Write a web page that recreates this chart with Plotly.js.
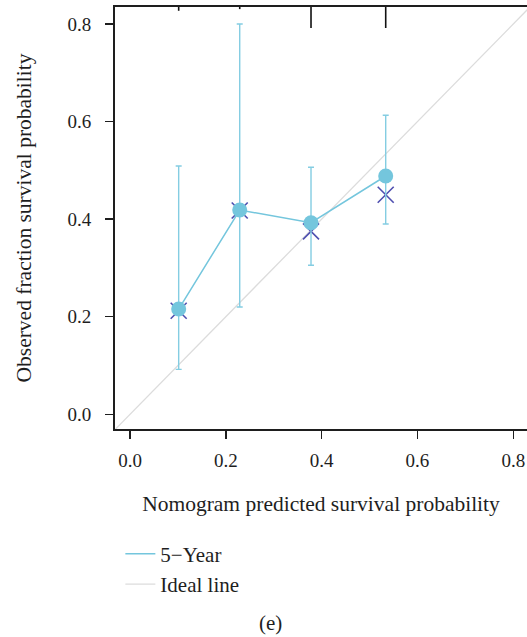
<!DOCTYPE html>
<html>
<head>
<meta charset="utf-8">
<script src="https://cdn.plot.ly/plotly-3.0.1.min.js"></script>
<style>
  html, body { margin: 0; padding: 0; background: #ffffff; }
  #chart { width: 527px; height: 637px; }
</style>
</head>
<body>
<div id="chart"></div>
<script>
// Calibration of the nomogram: 5-year survival
const predicted   = [0.1016, 0.2290, 0.3778, 0.5337];   // mean nomogram prediction per group
const observed    = [0.2158, 0.4187, 0.3927, 0.4884];   // Kaplan-Meier observed fraction
const corrected   = [0.2123, 0.4177, 0.3750, 0.4500];   // bias-corrected estimate (x marks)
const upperCI     = [0.5089, 0.8000, 0.5063, 0.6128];
const lowerCI     = [0.0922, 0.2199, 0.3054, 0.3900];
const riskDensity = [0.18, 0.10, 1.00, 1.00];           // relative frequency of predictions (top rug)
const idealSpan   = [-0.1, 1.0];
const xTicks      = [0.0, 0.2, 0.4, 0.6, 0.8];
const yTicks      = [0.0, 0.2, 0.4, 0.6, 0.8];
const xTickText   = ['0.0', '0.2', '0.4', '0.6', '0.8'];
const yTickText   = ['0.0', '0.2', '0.4', '0.6', '0.8'];

const BLUE = '#74c6dd';
const BAR  = '#84cde2';
const CROSS = '#4f4fb0';
const GREY = '#dcdcdc';
const INK = '#1e1e1e';
const FONT = 'Liberation Serif, Times New Roman, serif';

const errPlus  = upperCI.map((u, i) => u - observed[i]);
const errMinus = observed.map((o, i) => o - lowerCI[i]);

// rug segments hanging from the top edge
const rugX = [], rugY = [];
predicted.forEach((x, i) => { rugX.push(x, x, null); rugY.push(0, riskDensity[i], null); });

const traces = [
  {
    x: idealSpan, y: idealSpan, type: 'scatter', mode: 'lines',
    name: 'Ideal line', line: { color: GREY, width: 1.3 },
    legendgroup: 'b', legendrank: 2, hoverinfo: 'skip'
  },
  {
    x: predicted, y: corrected, type: 'scatter', mode: 'markers',
    marker: { symbol: 'x-thin-open', size: 16, color: CROSS, line: { color: CROSS, width: 1.6 } },
    showlegend: false, cliponaxis: false
  },
  {
    x: predicted, y: observed, type: 'scatter', mode: 'lines',
    name: '5\u2212Year', line: { color: BLUE, width: 1.5 },
    legendgroup: 'a', legendrank: 1
  },
  {
    x: predicted, y: observed, type: 'scatter', mode: 'markers',
    marker: { symbol: 'circle', size: 15, color: BLUE, line: { width: 0 } },
    error_y: { type: 'data', symmetric: false, array: errPlus, arrayminus: errMinus,
               color: BAR, thickness: 1.4, width: 3 },
    showlegend: false, cliponaxis: false
  },
  {
    x: rugX, y: rugY, type: 'scatter', mode: 'lines', yaxis: 'y2',
    line: { color: '#111111', width: 1.6 }, showlegend: false, hoverinfo: 'skip'
  }
];

const axisCommon = {
  showgrid: false, zeroline: false, showline: true, linecolor: INK, linewidth: 2,
  ticks: 'outside', ticklen: 8, tickwidth: 1.5, tickcolor: INK,
  tickfont: { family: FONT, size: 19, color: INK }, tickmode: 'array'
};

const layout = {
  width: 527, height: 637,
  margin: { l: 115, r: 0, t: 7, b: 208 },
  paper_bgcolor: '#ffffff', plot_bgcolor: '#ffffff',
  font: { family: FONT, color: INK },
  showlegend: true,
  xaxis: Object.assign({}, axisCommon, {
    range: [-0.0313, 0.8286], tickvals: xTicks, ticktext: xTickText,
    mirror: true, ticklabelstandoff: 5, automargin: false,
    title: { text: 'Nomogram predicted survival probability', standoff: 26,
             font: { family: FONT, size: 21.5, color: INK } }
  }),
  yaxis: Object.assign({}, axisCommon, {
    range: [-0.0301, 0.8348], tickvals: yTicks, ticktext: yTickText,
    ticklabelstandoff: 10, automargin: false,
    title: { text: 'Observed fraction survival probability', standoff: 30,
             font: { family: FONT, size: 21.5, color: INK } }
  }),
  yaxis2: {
    overlaying: 'y', range: [20.1, 0], visible: false, fixedrange: true
  },
  legend: {
    x: 0.013, xanchor: 'left', y: -0.248, yanchor: 'top',
    orientation: 'v', traceorder: 'normal', tracegroupgap: 4,
    bgcolor: 'rgba(0,0,0,0)', borderwidth: 0,
    font: { family: FONT, size: 21, color: INK }
  },
  annotations: [{
    text: '(e)', xref: 'paper', yref: 'paper', x: 0.377, y: -0.459,
    xanchor: 'center', yanchor: 'middle', showarrow: false,
    font: { family: FONT, size: 21, color: INK }
  }]
};

Plotly.newPlot('chart', traces, layout, { displayModeBar: false, staticPlot: true });
</script>
</body>
</html>
